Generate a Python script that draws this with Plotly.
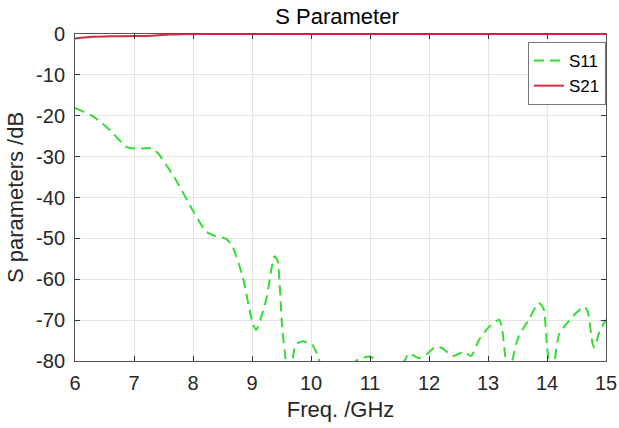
import plotly.graph_objects as go

# S11 data (GHz, dB)
s11_freq = [6.0, 6.31, 6.59, 6.87, 6.98, 7.15, 7.32, 7.43, 7.71, 7.99, 8.22, 8.39, 8.56, 8.67, 8.84,
            9.01, 9.07, 9.24, 9.38, 9.43, 9.51, 9.57, 9.62, 9.68, 9.74, 9.85, 10.02, 10.11, 10.2,
            10.6, 10.76, 10.99, 11.13, 11.3, 11.58, 11.66, 11.83, 11.95, 12.11, 12.23, 12.4, 12.51,
            12.6, 12.71, 12.85, 13.02, 13.19, 13.24, 13.3, 13.35, 13.41, 13.52, 13.69, 13.86, 13.94,
            14.0, 14.03, 14.08, 14.13, 14.21, 14.32, 14.49, 14.63, 14.69, 14.77, 14.8, 14.9, 15.0]
s11_db = [-18.1, -20.2, -23.5, -27.6, -28.0, -28.0, -28.0, -29.6, -35.7, -43.0, -48.3, -49.5, -50.1, -52.0, -59.3,
          -70.7, -72.4, -65.0, -54.4, -55.3, -71.6, -79.7, -84.0, -80.5, -76.0, -75.2, -76.0, -78.5, -82.0,
          -84.0, -80.0, -78.9, -80.0, -83.0, -80.0, -78.2, -79.3, -78.5, -76.5, -76.9, -78.8, -78.2,
          -77.7, -78.8, -74.8, -71.6, -69.9, -72.4, -80.0, -86.0, -80.0, -74.0, -69.9, -65.8, -67.1,
          -76.5, -80.0, -86.0, -80.0, -73.2, -71.1, -68.3, -66.7, -67.9, -75.6, -76.7, -72.4, -69.9]

# S21 data (GHz, dB)
s21_freq = [6.0, 6.3, 6.6, 7.0, 7.3, 7.6, 7.8, 8.5, 10.0, 12.0, 15.0]
s21_db = [-1.1, -0.7, -0.55, -0.5, -0.4, -0.15, -0.05, 0.0, 0.0, 0.0, 0.0]

x_ticks = [6, 7, 8, 9, 10, 11, 12, 13, 14, 15]
y_ticks = [0, -10, -20, -30, -40, -50, -60, -70, -80]

fig = go.Figure()
fig.add_trace(go.Scatter(x=s11_freq, y=s11_db, mode="lines", name="S11",
                         line=dict(color="#33dd33", width=2, dash="10px,6px", shape="spline", smoothing=0.6)))
fig.add_trace(go.Scatter(x=s21_freq, y=s21_db, mode="lines", name="S21",
                         line=dict(color="#c8323c", width=2, shape="spline", smoothing=0.6)))

font = "Liberation Sans, Arial, sans-serif"
axis_common = dict(showline=True, linecolor="#555555", linewidth=1, mirror="ticks",
                   ticks="inside", ticklen=5, tickcolor="#333333",
                   showgrid=True, gridcolor="#e3e3e3", gridwidth=1, zeroline=False,
                   automargin=False,
                   tickfont=dict(family=font, size=20, color="#262626"))

fig.update_layout(
    width=619, height=428,
    margin=dict(l=75, r=13, t=34, b=67),
    paper_bgcolor="white", plot_bgcolor="white",
    title=dict(text="S Parameter", x=337 / 619, xanchor="center",
               y=1 - 16 / 428, yanchor="middle",
               font=dict(family=font, size=22, color="#000000")),
    xaxis=dict(range=[6, 15], tickvals=x_ticks, ticktext=[str(v) for v in x_ticks],
               ticklabelstandoff=4,
               title=dict(text="Freq. /GHz", font=dict(family=font, size=22, color="#262626"), standoff=8),
               **axis_common),
    yaxis=dict(range=[-80, 0], tickvals=y_ticks, ticktext=[str(v) for v in y_ticks],
               ticklabelstandoff=5,
               title=dict(text="S parameters /dB", font=dict(family=font, size=22, color="#262626"), standoff=6),
               **axis_common),
    legend=dict(x=1, xanchor="right", y=1 - 8 / 327, yanchor="top",
                bgcolor="white", bordercolor="#777777", borderwidth=1,
                font=dict(family=font, size=17, color="#000000"),
                tracegroupgap=0, itemwidth=30),
    showlegend=True,
)

fig.write_html("out.html")
